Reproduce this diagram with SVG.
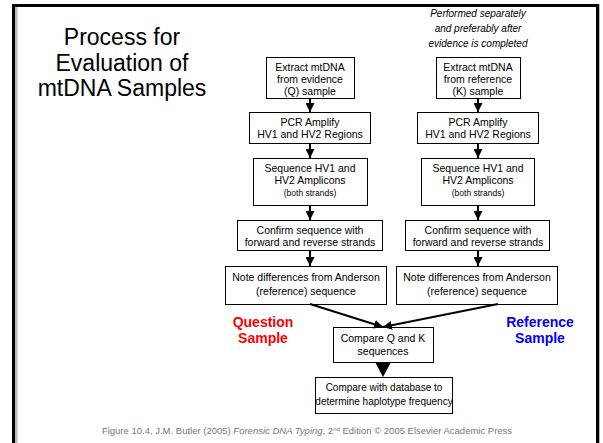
<svg xmlns="http://www.w3.org/2000/svg" width="603" height="443" viewBox="0 0 603 443">
<defs>
<marker id="ah" viewBox="0 0 10 10" refX="10" refY="5" markerWidth="4.5" markerHeight="4.5" orient="auto" markerUnits="strokeWidth"><path d="M0,0 L10,5 L0,10 z" fill="#000"/></marker>
</defs>
<style>
.box{fill:#fff;stroke:#000;stroke-width:1}
.t{font-family:"Liberation Sans",Arial,sans-serif;font-size:10.5px;fill:#000;text-anchor:middle}
.s{font-size:8.5px}
.m{font-size:10px}
.c{stroke:#000;stroke-width:2;fill:none}
.lab{font-family:"Liberation Sans",Arial,sans-serif;font-size:14px;font-weight:bold;text-anchor:middle}
</style>
<rect width="603" height="443" fill="#fff"/>
<path d="M16,446 V5.5 H598.5 V446" fill="none" stroke="#bbb" stroke-width="3"/>
<path d="M13.5,446 V5.5 H597.5 V446" fill="none" stroke="#000" stroke-width="3"/>
<g id="title">
<text font-family="'Liberation Sans',Arial,sans-serif" font-size="23" text-anchor="middle" x="122" y="45">Process for</text>
<text font-family="'Liberation Sans',Arial,sans-serif" font-size="23" text-anchor="middle" x="122" y="70.5">Evaluation of</text>
<text font-family="'Liberation Sans',Arial,sans-serif" font-size="23" text-anchor="middle" x="122" y="96">mtDNA Samples</text>
</g>
<g id="note">
<text class="t m" font-style="italic" x="478" y="17">Performed separately</text>
<text class="t m" font-style="italic" x="478" y="32">and preferably after</text>
<text class="t m" font-style="italic" x="478" y="47">evidence is completed</text>
</g>
<g id="q1"><rect class="box" x="266.5" y="57.5" width="88" height="41"/><text class="t" x="310" y="71">Extract mtDNA</text><text class="t" x="310" y="83">from evidence</text><text class="t" x="310" y="95">(Q) sample</text></g>
<g id="q2"><rect class="box" x="249.5" y="112.5" width="121" height="31"/><text class="t" x="310" y="126">PCR Amplify</text><text class="t" x="310" y="138">HV1 and HV2 Regions</text></g>
<g id="q3"><rect class="box" x="253.5" y="158.5" width="114" height="47"/><text class="t" x="310" y="172">Sequence HV1 and</text><text class="t" x="310" y="184">HV2 Amplicons</text><text class="t s" x="310" y="196">(both strands)</text></g>
<g id="q4"><rect class="box" x="237.5" y="220.5" width="145" height="30"/><text class="t" x="310" y="234">Confirm sequence with</text><text class="t" x="310" y="246">forward and reverse strands</text></g>
<g id="q5"><rect class="box" x="225.5" y="266.5" width="161" height="38"/><text class="t" x="306" y="281">Note differences from Anderson</text><text class="t" x="306" y="295">(reference) sequence</text></g>
<g id="k1"><rect class="box" x="436.5" y="57.5" width="84" height="41"/><text class="t" x="478" y="71">Extract mtDNA</text><text class="t" x="478" y="83">from reference</text><text class="t" x="478" y="95">(K) sample</text></g>
<g id="k2"><rect class="box" x="417.5" y="112.5" width="121" height="31"/><text class="t" x="478" y="126">PCR Amplify</text><text class="t" x="478" y="138">HV1 and HV2 Regions</text></g>
<g id="k3"><rect class="box" x="421.5" y="158.5" width="113" height="47"/><text class="t" x="478" y="172">Sequence HV1 and</text><text class="t" x="478" y="184">HV2 Amplicons</text><text class="t s" x="478" y="196">(both strands)</text></g>
<g id="k4"><rect class="box" x="405.5" y="220.5" width="144" height="30"/><text class="t" x="478" y="234">Confirm sequence with</text><text class="t" x="478" y="246">forward and reverse strands</text></g>
<g id="k5"><rect class="box" x="396.5" y="266.5" width="161" height="38"/><text class="t" x="477" y="281">Note differences from Anderson</text><text class="t" x="477" y="295">(reference) sequence</text></g>
<g id="cmp"><rect class="box" x="333.5" y="327.5" width="100" height="35"/><text class="t" x="383" y="342">Compare Q and K</text><text class="t" x="383" y="355">sequences</text></g>
<g id="db"><rect class="box" x="315.5" y="377.5" width="137" height="36"/><text class="t m" x="384" y="391">Compare with database to</text><text class="t m" x="384" y="405">determine haplotype frequency</text></g>
<g id="labels">
<text class="lab" fill="#f00" x="263" y="327">Question</text>
<text class="lab" fill="#f00" x="263" y="343">Sample</text>
<text class="lab" fill="#00f" x="540" y="327">Reference</text>
<text class="lab" fill="#00f" x="540" y="343">Sample</text>
</g>
<g id="connectors">
<line class="c" x1="310" y1="98" x2="310" y2="112" marker-end="url(#ah)"/>
<line class="c" x1="310" y1="143" x2="310" y2="158" marker-end="url(#ah)"/>
<line class="c" x1="310" y1="205" x2="310" y2="220" marker-end="url(#ah)"/>
<line class="c" x1="310" y1="250" x2="310" y2="266" marker-end="url(#ah)"/>
<line class="c" x1="478" y1="98" x2="478" y2="112" marker-end="url(#ah)"/>
<line class="c" x1="478" y1="143" x2="478" y2="158" marker-end="url(#ah)"/>
<line class="c" x1="478" y1="205" x2="478" y2="220" marker-end="url(#ah)"/>
<line class="c" x1="478" y1="250" x2="478" y2="266" marker-end="url(#ah)"/>
<line class="c" x1="310" y1="304" x2="383" y2="327" marker-end="url(#ah)"/>
<line class="c" x1="498" y1="304" x2="383" y2="327" marker-end="url(#ah)"/>
<path d="M375,362 L391,362 L383,377 z" fill="#000"/>
</g>
<text font-family="'Liberation Sans',Arial,sans-serif" font-size="9.5" fill="#777" text-anchor="middle" x="307" y="434">Figure 10.4, J.M. Butler (2005) <tspan font-style="italic">Forensic DNA Typing</tspan>, 2<tspan font-size="6" dy="-3.5">nd</tspan><tspan dy="3.5"> Edition © 2005 Elsevier Academic Press</tspan></text>
</svg>
